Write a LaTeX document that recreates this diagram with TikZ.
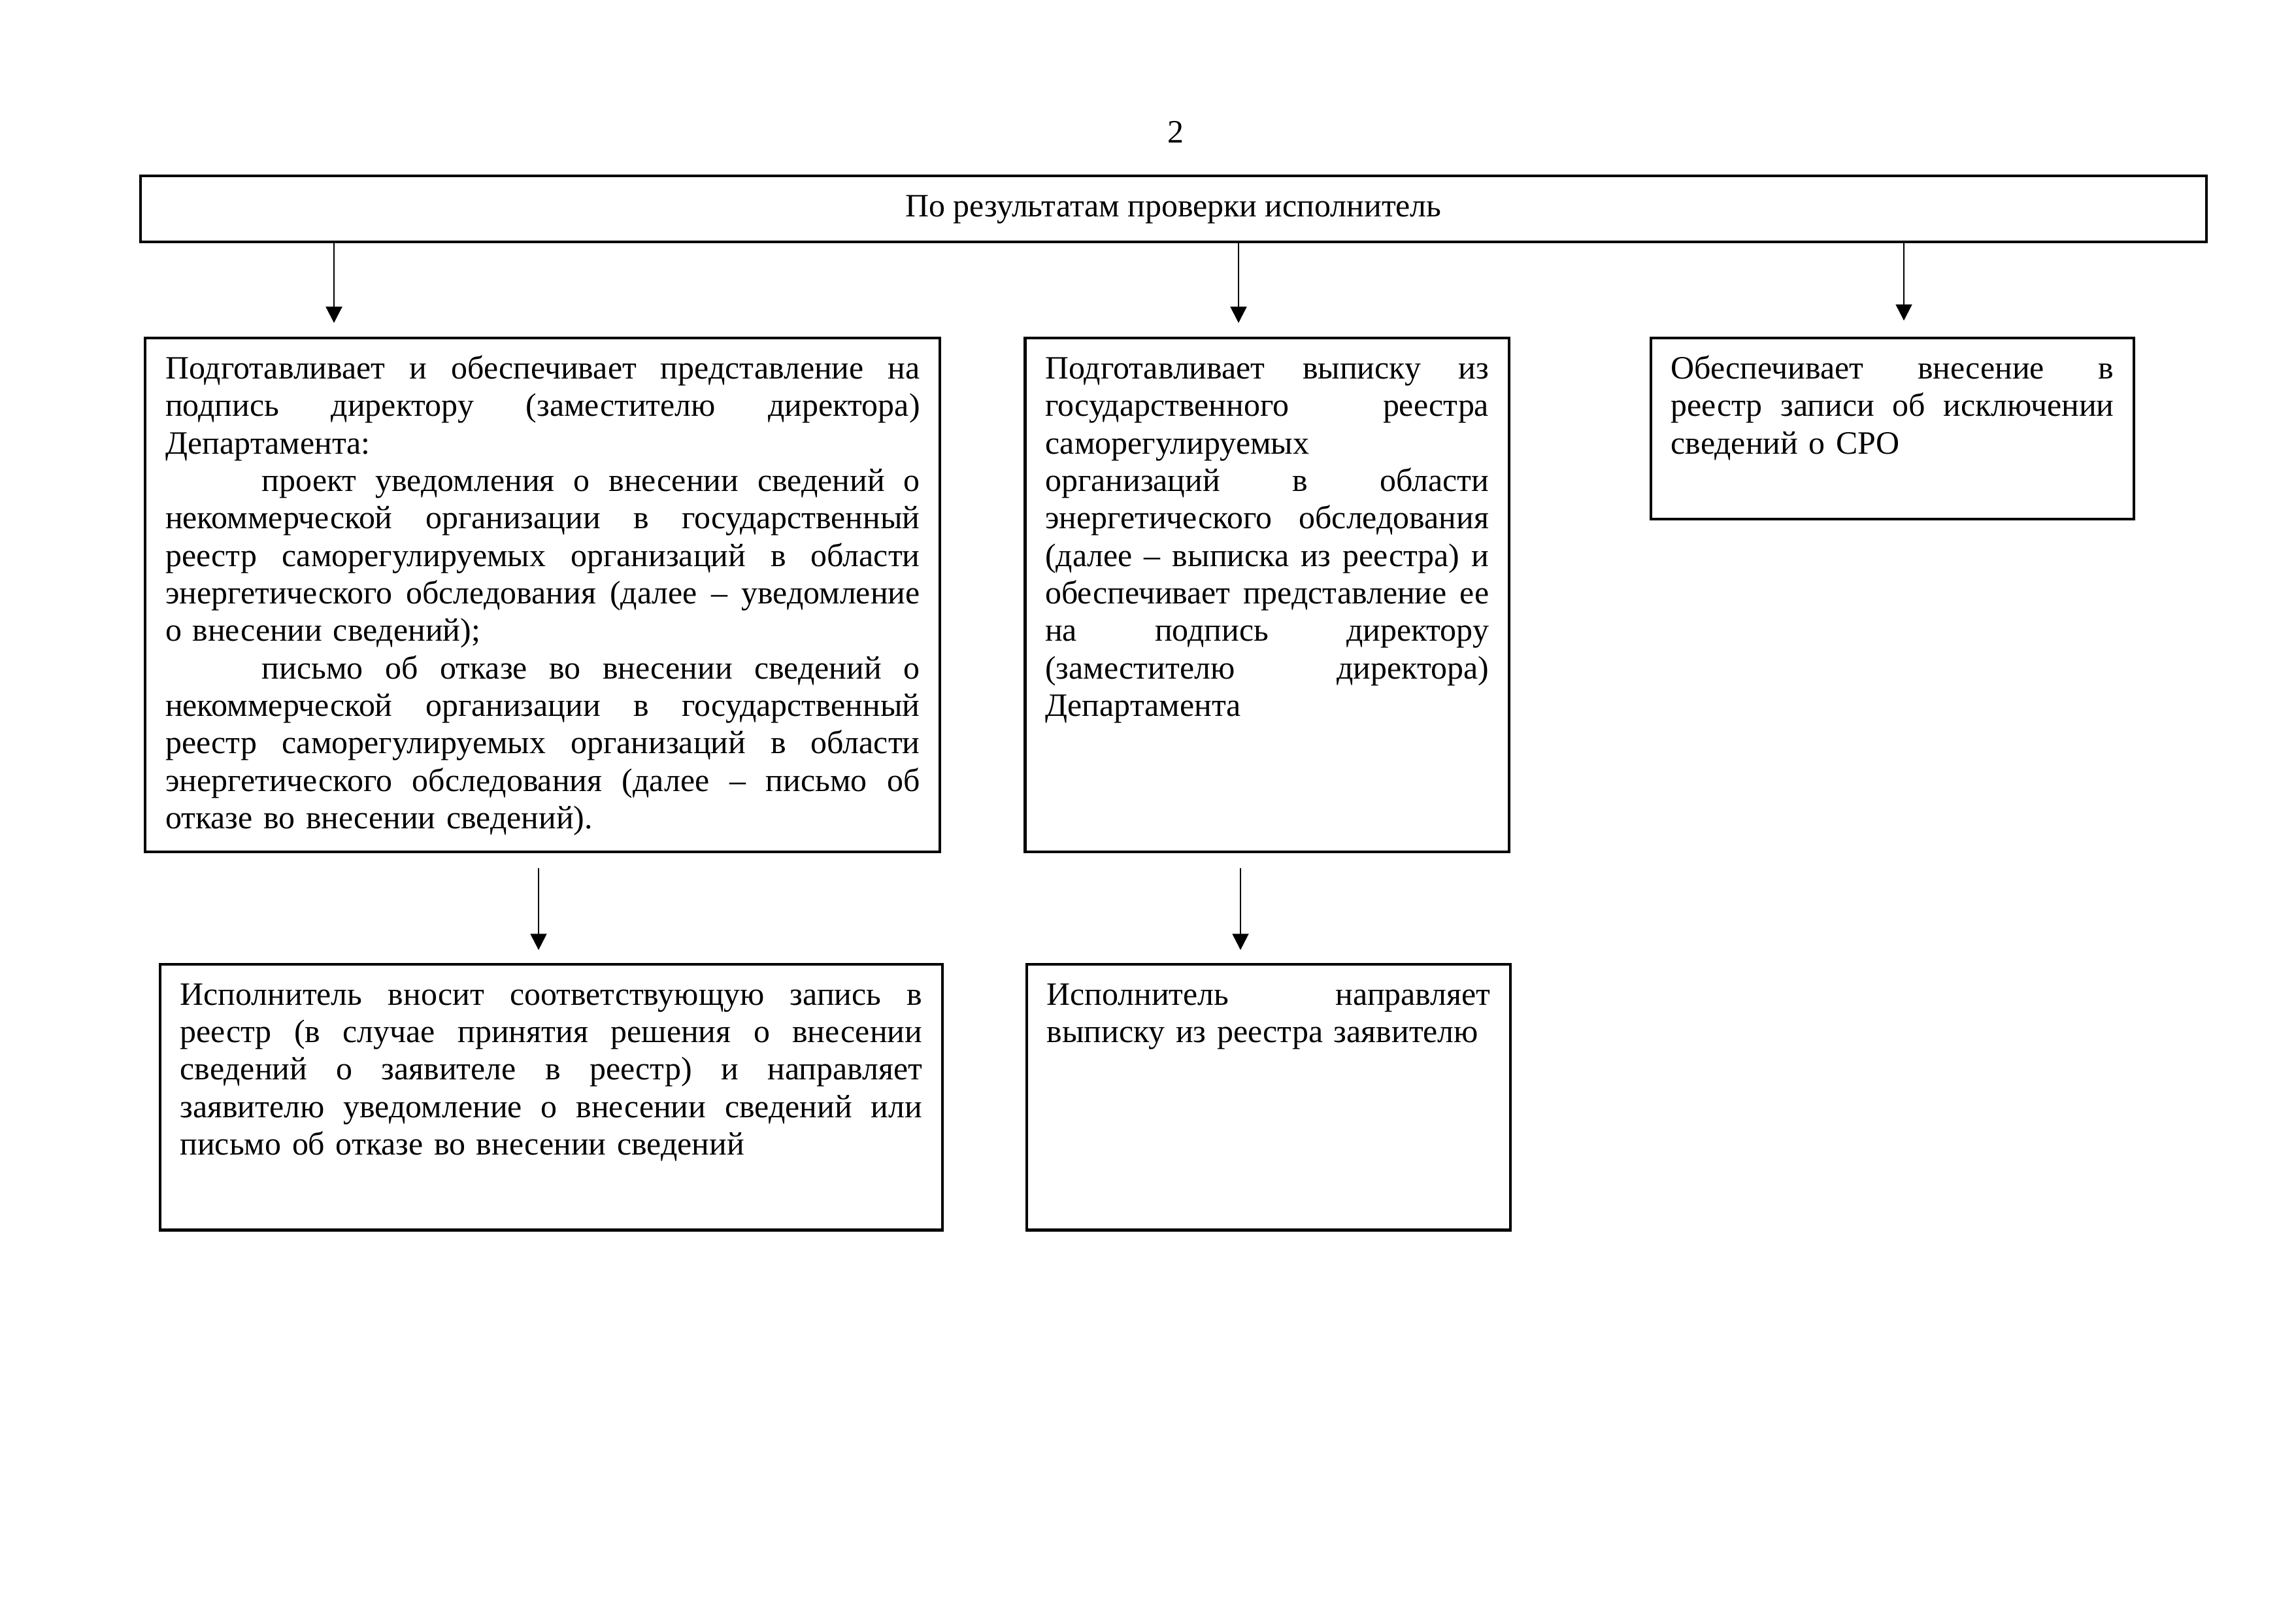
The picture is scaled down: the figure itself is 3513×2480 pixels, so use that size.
\documentclass[tikz,border=0pt]{standalone}
\usepackage{fontspec}
\setmainfont{Liberation Serif}
\usetikzlibrary{arrows.meta,positioning}
\newcommand\jline[1]{\makebox[\linewidth][s]{\spaceskip=0pt\xspaceskip=0pt\relax #1}\\}

\begin{document}
\begin{tikzpicture}[x=0.084543mm,y=-0.084543mm,>={Triangle[length=2.1mm,width=2.1mm]},
    txt/.style={font=\fontsize{12}{13.8}\selectfont},
    stage/.style={txt,draw,line width=1pt,inner xsep=2.6mm,inner ysep=0pt,text height=5.24mm,align=left,anchor=north west},
    link/.style={->,line width=0.6pt}]
  \useasboundingbox (0,0) rectangle (3513,2480);
  \node[txt] (num) at (1799,202) {2};
  \node[txt,draw,line width=1pt,minimum width=267.2mm,minimum height=8.54mm,inner sep=0pt,text height=3.1mm,text depth=1mm] (top) at (1795.5,319.5) {По результатам проверки исполнитель};
  % first row
  \node[stage,text width=97.6mm,text depth=61.2mm,below right=12.1mm and 0.6mm of top.south west] (a) {%
    \jline{Подготавливает и обеспечивает представление на}
    \jline{подпись директору (заместителю директора)}
    Департамента:\\
    \jline{\hspace*{12.5mm}проект уведомления о внесении сведений о}
    \jline{некоммерческой организации в государственный}
    \jline{реестр саморегулируемых организаций в области}
    \jline{энергетического обследования (далее – уведомление}
    о внесении сведений);\\
    \jline{\hspace*{12.5mm}письмо об отказе во внесении сведений о}
    \jline{некоммерческой организации в государственный}
    \jline{реестр саморегулируемых организаций в области}
    \jline{энергетического обследования (далее – письмо об}
    отказе во внесении сведений).};
  \node[stage,text width=57.4mm,text depth=61.2mm,below right=0mm and 10.65mm of a.north east] (b) {%
    \jline{Подготавливает выписку из}
    \jline{государственного реестра}
    саморегулируемых\\
    \jline{организаций в области}
    \jline{энергетического обследования}
    \jline{(далее – выписка из реестра) и}
    \jline{обеспечивает представление ее}
    \jline{на подпись директору}
    \jline{(заместителю директора)}
    Департамента};
  \node[stage,text width=57.3mm,text depth=18.18mm,below right=0mm and 18mm of b.north east] (c) {%
    \jline{Обеспечивает внесение в}
    \jline{реестр записи об исключении}
    сведений о СРО};
  % second row
  \node[stage,text width=96mm,text depth=29.1mm,below right=14.2mm and 1.9mm of a.south west] (d) {%
    \jline{Исполнитель вносит соответствующую запись в}
    \jline{реестр (в случае принятия решения о внесении}
    \jline{сведений о заявителе в реестр) и направляет}
    \jline{заявителю уведомление о внесении сведений или}
    письмо об отказе во внесении сведений};
  \node[stage,text width=57.4mm,text depth=29.1mm,below right=14.2mm and 0.2mm of b.south west] (e) {%
    \jline{Исполнитель направляет}
    выписку из реестра заявителю};
  % arrows
  \coordinate (c1) at (511,0);
  \coordinate (c2) at (1895,0);
  \coordinate (c3) at (2913,0);
  \coordinate (c4) at (824,0);
  \coordinate (c5) at (1898,0);
  \draw[link,shorten >=1.8mm] (top.south -| c1) -- (a.north -| c1);
  \draw[link,shorten >=1.8mm] (top.south -| c2) -- (b.north -| c2);
  \draw[link,shorten >=2.1mm] (top.south -| c3) -- (c.north -| c3);
  \draw[link,shorten <=1.9mm,shorten >=1.7mm] (a.south -| c4) -- (d.north -| c4);
  \draw[link,shorten <=1.9mm,shorten >=1.7mm] (b.south -| c5) -- (e.north -| c5);
\end{tikzpicture}
\end{document}
